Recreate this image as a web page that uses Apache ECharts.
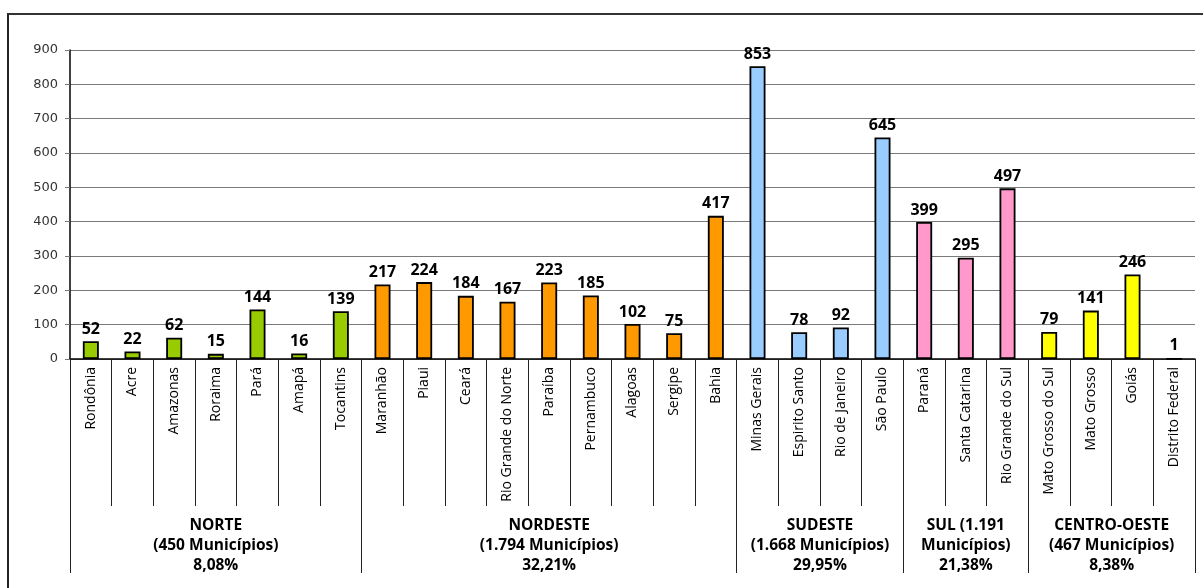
<!DOCTYPE html>
<html>
<head>
<meta charset="utf-8">
<script src="https://cdn.jsdelivr.net/npm/echarts@6/dist/echarts.min.js"></script>
<style>
  html, body { margin: 0; padding: 0; background: #fff; overflow: hidden; }
  #frame { position: absolute; left: 7px; top: 13px; width: 1300px; height: 700px;
           border-left: 2px solid #222; border-top: 2px solid #333; }
  #chart { position: absolute; left: 0; top: 0; width: 1203px; height: 588px; }
</style>
</head>
<body>
<div id="frame"></div>
<div id="chart"></div>
<script>
// Municípios per state, grouped by region
const states = ['Rondônia', 'Acre', 'Amazonas', 'Roraima', 'Pará', 'Amapá', 'Tocantins',
  'Maranhão', 'Piaui', 'Ceará', 'Rio Grande do Norte', 'Paraíba', 'Pernambuco', 'Alagoas', 'Sergipe', 'Bahia',
  'Minas Gerais', 'Espirito Santo', 'Rio de Janeiro', 'São Paulo',
  'Paraná', 'Santa Catarina', 'Rio Grande do Sul',
  'Mato Grosso do Sul', 'Mato Grosso', 'Goiás', 'Distrito Federal'];
const municipios = [52, 22, 62, 15, 144, 16, 139,
  217, 224, 184, 167, 223, 185, 102, 75, 417,
  853, 78, 92, 645,
  399, 295, 497,
  79, 141, 246, 1];

const regionSizes = [7, 9, 4, 3, 4];
const regionLabels = [
  'NORTE\n(450 Municípios)\n8,08%',
  'NORDESTE\n(1.794 Municípios)\n32,21%',
  'SUDESTE\n(1.668 Municípios)\n29,95%',
  'SUL (1.191\nMunicípios)\n21,38%',
  'CENTRO-OESTE\n(467 Municípios)\n8,38%'
];
const regionColors = ['#99CC00', '#FF9900', '#99CCFF', '#FF99CC', '#FFFF00'];
const yTicks = [0, 100, 200, 300, 400, 500, 600, 700, 800, 900];

// region boundaries and label centres along the state axis
const bounds = [0];
regionSizes.forEach(s => bounds.push(bounds[bounds.length - 1] + s));
const centres = regionSizes.map((s, i) => bounds[i] + s / 2);
const stateColor = [];
regionSizes.forEach((s, i) => { for (let k = 0; k < s; k++) stateColor.push(regionColors[i]); });

const FONT = '"Open Sans", sans-serif';

const chart = echarts.init(document.getElementById('chart'), null, { renderer: 'canvas' });
chart.setOption({
  animation: false,
  grid: { left: 70, right: 8, top: 50, bottom: 229, containLabel: false },
  xAxis: [
    {
      type: 'category',
      data: states,
      position: 'bottom',
      boundaryGap: true,
      axisLine: { show: true, lineStyle: { color: '#000', width: 1.5 } },
      axisTick: { show: true, interval: 0, length: 147, lineStyle: { color: '#222', width: 1 } },
      axisLabel: { interval: 0, rotate: 90, margin: 8, fontFamily: FONT, fontSize: 14, color: '#000' },
      splitLine: { show: false }
    },
    {
      type: 'value',
      position: 'bottom',
      min: 0,
      max: states.length,
      axisLine: { show: false },
      axisTick: { show: true, customValues: bounds, length: 214, lineStyle: { color: '#222', width: 1 } },
      axisLabel: {
        show: true,
        customValues: centres,
        margin: 157,
        fontFamily: FONT, fontSize: 15.5, fontWeight: 'bold', color: '#000',
        lineHeight: 20, align: 'center',
        formatter: v => regionLabels[centres.indexOf(v)] || ''
      },
      splitLine: { show: false }
    }
  ],
  yAxis: {
    type: 'value',
    min: yTicks[0],
    max: yTicks[yTicks.length - 1],
    interval: yTicks[1] - yTicks[0],
    axisLine: { show: true, lineStyle: { color: '#000', width: 1.5 } },
    axisTick: { show: true, length: 5, lineStyle: { color: '#777' } },
    axisLabel: { margin: 12, fontFamily: '"DejaVu Sans", Verdana, sans-serif', fontSize: 13, color: '#333' },
    splitLine: { show: true, lineStyle: { color: '#7a7a7a', width: 1.2 } }
  },
  series: [{
    type: 'bar',
    xAxisIndex: 0,
    barWidth: 16,
    data: municipios.map((v, i) => ({ value: v, itemStyle: { color: stateColor[i] } })),
    itemStyle: { borderColor: '#000', borderWidth: 1.8 },
    label: {
      show: true, position: 'top', distance: 4,
      fontFamily: FONT, fontSize: 16, fontWeight: 'bold', color: '#000'
    }
  }]
});
</script>
</body>
</html>
